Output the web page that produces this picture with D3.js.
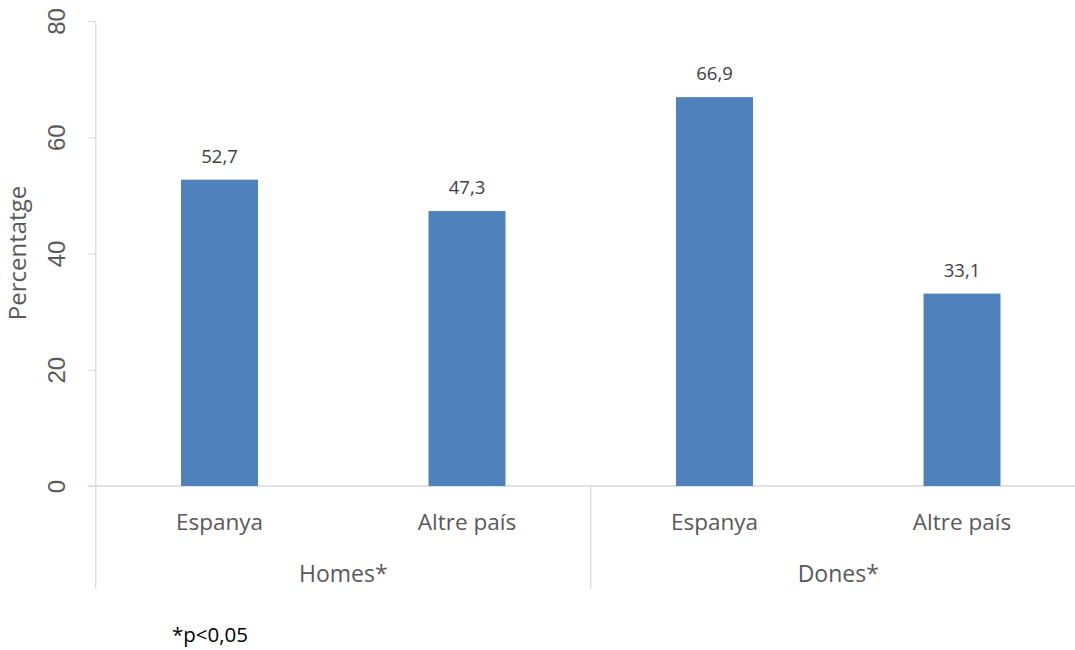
<!DOCTYPE html>
<html><head><meta charset="utf-8">
<script src="https://cdn.jsdelivr.net/npm/d3@7"></script>
<style>
body{margin:0;background:#fff;}
svg{display:block;}
</style></head>
<body>
<svg id="c" width="1075" height="650"></svg>
<script>
const categories = ["Espanya", "Altre país", "Espanya", "Altre país"];
const groups = ["Homes*", "Homes*", "Dones*", "Dones*"];
const groupNames = ["Homes*", "Dones*"];
const values = [52.7, 47.3, 66.9, 33.1];
const labels = ["52,7", "47,3", "66,9", "33,1"];
const yTicks = [0, 20, 40, 60, 80];
const yTitle = "Percentatge";
const footnote = "*p<0,05";

(function () {
const svg = d3.select("#c");
const mLeft = 95.75, mRight = 1085.75, mTop = 21, mBottom = 486;
const axisCol = "#d9d9d9", textCol = "#595959";
const font = "'Open Sans', sans-serif";

const y = d3.scaleLinear().domain([0, 80]).range([mBottom, mTop]);
const x = d3.scaleBand().domain(d3.range(categories.length)).range([mLeft, mRight])
  .paddingInner(0.689).paddingOuter(0.3445);
const step = x.step();

// y axis
const yAxis = svg.append("g").attr("transform", `translate(${mLeft},0)`)
  .call(d3.axisLeft(y).tickValues(yTicks).tickSize(8).tickPadding(0));
yAxis.select(".domain").remove();
yAxis.selectAll(".tick line").attr("stroke", axisCol).attr("stroke-width", 1);
yAxis.selectAll(".tick text").remove();
yAxis.selectAll(".tick").append("text")
  .attr("transform", "translate(-39,0) rotate(-90)")
  .attr("text-anchor", "middle").attr("dy", "0.36em")
  .attr("fill", textCol).style("font-family", "'Liberation Sans', Arial, sans-serif")
  .style("font-size", "24px").text(d => d);

// y axis vertical line
svg.append("line").attr("x1", mLeft).attr("x2", mLeft).attr("y1", mTop).attr("y2", 589)
  .attr("stroke", axisCol).attr("stroke-width", 1.2);

// x axis baseline
svg.append("line").attr("x1", mLeft - 8).attr("x2", mRight).attr("y1", mBottom).attr("y2", mBottom)
  .attr("stroke", axisCol).attr("stroke-width", 1.5);

// group divider
const groupEdges = [2];
svg.selectAll(".div").data(groupEdges).enter().append("line")
  .attr("x1", d => mLeft + step * d).attr("x2", d => mLeft + step * d)
  .attr("y1", mBottom).attr("y2", 589)
  .attr("stroke", axisCol).attr("stroke-width", 1.2);

// bars
svg.selectAll(".bar").data(values).enter().append("rect")
  .attr("x", (d, i) => x(i)).attr("width", x.bandwidth())
  .attr("y", d => y(d)).attr("height", d => y(0) - y(d))
  .attr("fill", "#4f81bd");

// data labels
svg.selectAll(".lab").data(values).enter().append("text")
  .attr("x", (d, i) => x(i) + x.bandwidth() / 2).attr("y", d => y(d) - 17)
  .attr("text-anchor", "middle").attr("fill", "#404040")
  .style("font-family", font).style("font-size", "18.5px")
  .text((d, i) => labels[i]);

// category labels
svg.selectAll(".cat").data(categories).enter().append("text")
  .attr("x", (d, i) => x(i) + x.bandwidth() / 2).attr("y", 530)
  .attr("text-anchor", "middle").attr("fill", textCol)
  .style("font-family", font).style("font-size", "22.5px")
  .text(d => d);

// group labels
svg.selectAll(".grp").data(groupNames).enter().append("text")
  .attr("x", (d, i) => mLeft + step * (2 * i + 1)).attr("y", 582)
  .attr("text-anchor", "middle").attr("fill", textCol)
  .style("font-family", font).style("font-size", "23px")
  .text(d => d);

// y title
svg.append("text").attr("transform", "translate(26,253) rotate(-90)")
  .attr("text-anchor", "middle").attr("fill", textCol)
  .style("font-family", font).style("font-size", "24px").text(yTitle);

// footnote
svg.append("text").attr("x", 172).attr("y", 642).attr("fill", "#000")
  .style("font-family", font).style("font-size", "20.5px").text(footnote);
})();
</script>
</body></html>
